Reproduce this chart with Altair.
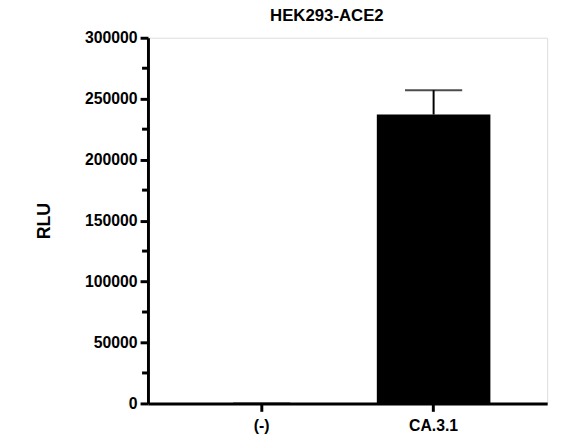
import altair as alt
import pandas as pd

categories = ["(-)", "CA.3.1"]
means = [0, 237000]
errors = [0, 20000]
minor_ticks = [25000, 75000, 125000, 175000, 225000, 275000]
major_ticks = [0, 50000, 100000, 150000, 200000, 250000, 300000]

df = pd.DataFrame({"cat": categories, "mean": means, "err": errors})
df["hi"] = df["mean"] + df["err"]

FONT = "Liberation Sans"

x_enc = alt.X("cat:N", sort=categories, title=None,
              scale=alt.Scale(paddingInner=0.34, paddingOuter=0.33),
              axis=alt.Axis(labelAngle=0, labelFont=FONT, labelFontSize=16,
                            labelFontWeight="bold", labelColor="black",
                            domainColor="black", domainWidth=3,
                            tickColor="black", tickWidth=3, tickSize=8,
                            labelPadding=6))
y_scale = alt.Scale(domain=[0, 300000], nice=False)

bars = alt.Chart(df).mark_bar(color="black").encode(
    x=x_enc,
    y=alt.Y("mean:Q", scale=y_scale, title="RLU",
            axis=alt.Axis(values=major_ticks, format="d", grid=False,
                          labelFont=FONT, labelFontSize=16, labelFontWeight="bold",
                          labelColor="black", domainColor="black", domainWidth=3,
                          tickColor="black", tickWidth=3, tickSize=8,
                          titleFont=FONT, titleFontSize=18, titleFontWeight="bold",
                          titleColor="black", titlePadding=32, labelPadding=3)),
)

err_rule = alt.Chart(df).mark_rule(color="black", strokeWidth=2).encode(
    x=alt.X("cat:N", sort=categories),
    y=alt.Y("mean:Q", scale=y_scale),
    y2="hi:Q",
)

err_cap = alt.Chart(df).mark_tick(color="black", thickness=2, size=58).encode(
    x=alt.X("cat:N", sort=categories),
    y=alt.Y("hi:Q", scale=y_scale),
)

minor = alt.Chart(pd.DataFrame({"v": minor_ticks})).mark_rule(
    color="black", strokeWidth=3).encode(
    y=alt.Y("v:Q", scale=y_scale),
    x=alt.value(-6),
    x2=alt.value(0),
)

chart = alt.layer(bars, err_rule, err_cap, minor).properties(
    width=405, height=371,
    title=alt.TitleParams("HEK293-ACE2", font=FONT, fontSize=17, fontWeight="bold",
                          color="black", anchor="middle", dx=-21, offset=5),
    autosize=alt.AutoSizeParams(type="none"),
    padding={"left": 142, "top": 27, "right": 12, "bottom": 40},
).configure_view(stroke=None).configure(background="white")

chart.save("out.html", embed_options={"renderer": "svg", "actions": False})
